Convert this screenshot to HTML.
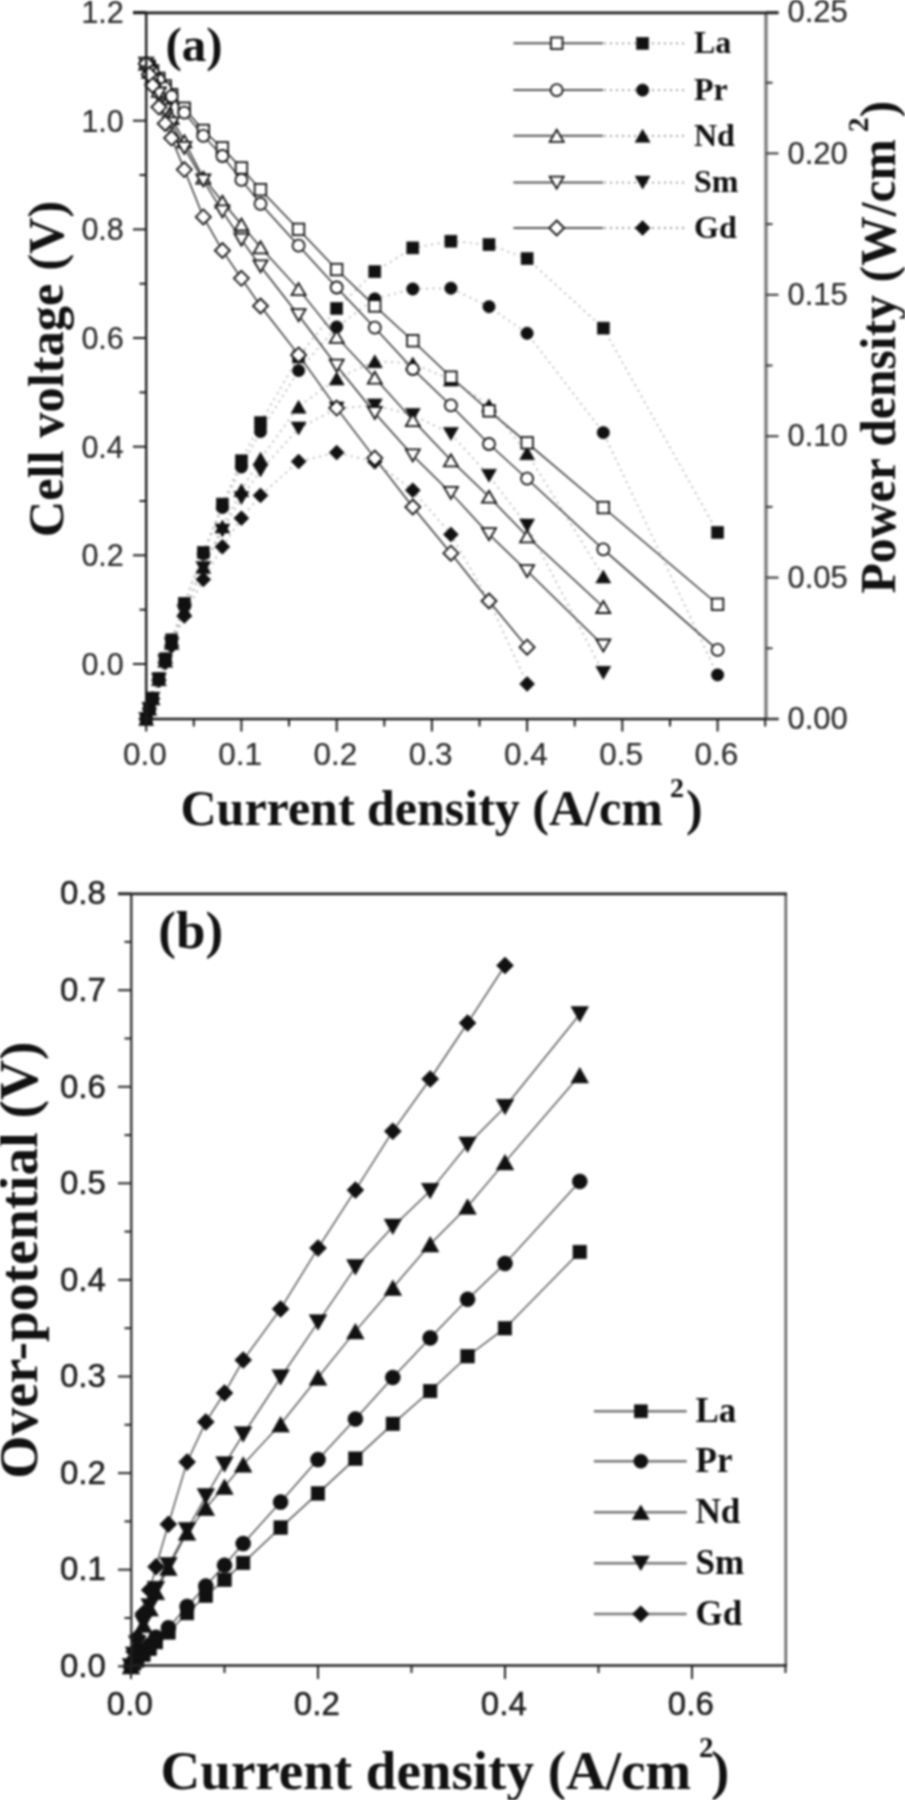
<!DOCTYPE html><html><head><meta charset="utf-8"><style>html,body{margin:0;padding:0;background:#fff;width:905px;height:1800px;overflow:hidden}svg{display:block;filter:blur(1.0px);}.tk{font-family:"Liberation Sans",sans-serif;fill:#2a2a2a;stroke:#2a2a2a;stroke-width:0.2}.tkb{font-family:"Liberation Sans",sans-serif;fill:#1e1e1e;stroke:#1e1e1e;stroke-width:0.5}.ti{font-family:"Liberation Serif",serif;font-weight:bold;fill:#111}</style></head><body>
<svg width="905" height="1800" viewBox="0 0 905 1800">
<polyline points="146.2,719.0 149.3,708.7 152.6,698.3 158.9,678.5 165.2,658.8 171.6,639.9 184.3,603.3 203.3,552.4 222.4,504.1 241.4,460.8 260.5,422.7 298.6,357.0 336.7,308.4 374.8,271.7 412.8,247.9 450.9,241.2 489.0,244.6 527.1,258.6 603.3,328.1 717.6,532.4" fill="none" stroke="#ababab" stroke-width="1.5" stroke-dasharray="2 4.5"/>
<polyline points="146.2,719.0 149.3,708.7 152.6,698.3 158.9,678.6 165.2,659.0 171.6,640.1 184.3,604.2 203.3,554.1 222.4,507.5 241.4,467.0 260.5,431.6 298.6,370.6 336.7,327.0 374.8,298.9 412.8,289.0 450.9,288.2 489.0,306.7 527.1,333.3 603.3,432.6 717.6,674.9" fill="none" stroke="#ababab" stroke-width="1.5" stroke-dasharray="2 4.5"/>
<polyline points="146.2,719.0 149.3,708.8 152.6,698.5 158.9,679.3 165.2,660.7 171.6,643.1 184.3,610.2 203.3,567.1 222.4,526.5 241.4,490.2 260.5,458.7 298.6,406.8 336.7,378.5 374.8,361.3 412.8,363.5 450.9,379.6 489.0,405.4 527.1,453.2 603.3,576.5" fill="none" stroke="#ababab" stroke-width="1.5" stroke-dasharray="2 4.5"/>
<polyline points="146.2,719.0 149.3,708.8 152.6,698.6 158.9,679.5 165.2,661.3 171.6,643.9 184.3,611.5 203.3,568.0 222.4,530.5 241.4,498.1 260.5,470.6 298.6,428.5 336.7,408.5 374.8,405.4 412.8,414.9 450.9,433.9 489.0,475.7 527.1,525.6 603.3,672.8" fill="none" stroke="#ababab" stroke-width="1.5" stroke-dasharray="2 4.5"/>
<polyline points="146.2,719.0 149.3,708.9 152.6,698.8 158.9,680.4 165.2,662.7 171.6,645.9 184.3,616.1 203.3,579.4 222.4,546.8 241.4,518.2 260.5,495.4 298.6,461.5 336.7,452.6 374.8,461.8 412.8,490.2 450.9,534.4 489.0,600.9 527.1,683.9" fill="none" stroke="#ababab" stroke-width="1.5" stroke-dasharray="2 4.5"/>
<rect x="140.2" y="713.0" width="12.0" height="12.0" fill="#111" stroke="#111" stroke-width="0.6"/>
<rect x="143.3" y="702.7" width="12.0" height="12.0" fill="#111" stroke="#111" stroke-width="0.6"/>
<rect x="146.6" y="692.3" width="12.0" height="12.0" fill="#111" stroke="#111" stroke-width="0.6"/>
<rect x="152.9" y="672.5" width="12.0" height="12.0" fill="#111" stroke="#111" stroke-width="0.6"/>
<rect x="159.2" y="652.8" width="12.0" height="12.0" fill="#111" stroke="#111" stroke-width="0.6"/>
<rect x="165.6" y="633.9" width="12.0" height="12.0" fill="#111" stroke="#111" stroke-width="0.6"/>
<rect x="178.3" y="597.3" width="12.0" height="12.0" fill="#111" stroke="#111" stroke-width="0.6"/>
<rect x="197.3" y="546.4" width="12.0" height="12.0" fill="#111" stroke="#111" stroke-width="0.6"/>
<rect x="216.4" y="498.1" width="12.0" height="12.0" fill="#111" stroke="#111" stroke-width="0.6"/>
<rect x="235.4" y="454.8" width="12.0" height="12.0" fill="#111" stroke="#111" stroke-width="0.6"/>
<rect x="254.5" y="416.7" width="12.0" height="12.0" fill="#111" stroke="#111" stroke-width="0.6"/>
<rect x="292.6" y="351.0" width="12.0" height="12.0" fill="#111" stroke="#111" stroke-width="0.6"/>
<rect x="330.7" y="302.4" width="12.0" height="12.0" fill="#111" stroke="#111" stroke-width="0.6"/>
<rect x="368.8" y="265.7" width="12.0" height="12.0" fill="#111" stroke="#111" stroke-width="0.6"/>
<rect x="406.8" y="241.9" width="12.0" height="12.0" fill="#111" stroke="#111" stroke-width="0.6"/>
<rect x="444.9" y="235.2" width="12.0" height="12.0" fill="#111" stroke="#111" stroke-width="0.6"/>
<rect x="483.0" y="238.6" width="12.0" height="12.0" fill="#111" stroke="#111" stroke-width="0.6"/>
<rect x="521.1" y="252.6" width="12.0" height="12.0" fill="#111" stroke="#111" stroke-width="0.6"/>
<rect x="597.3" y="322.1" width="12.0" height="12.0" fill="#111" stroke="#111" stroke-width="0.6"/>
<rect x="711.6" y="526.4" width="12.0" height="12.0" fill="#111" stroke="#111" stroke-width="0.6"/>
<circle cx="146.2" cy="719.0" r="6.2" fill="#111" stroke="#111" stroke-width="0.6"/>
<circle cx="149.3" cy="708.7" r="6.2" fill="#111" stroke="#111" stroke-width="0.6"/>
<circle cx="152.6" cy="698.3" r="6.2" fill="#111" stroke="#111" stroke-width="0.6"/>
<circle cx="158.9" cy="678.6" r="6.2" fill="#111" stroke="#111" stroke-width="0.6"/>
<circle cx="165.2" cy="659.0" r="6.2" fill="#111" stroke="#111" stroke-width="0.6"/>
<circle cx="171.6" cy="640.1" r="6.2" fill="#111" stroke="#111" stroke-width="0.6"/>
<circle cx="184.3" cy="604.2" r="6.2" fill="#111" stroke="#111" stroke-width="0.6"/>
<circle cx="203.3" cy="554.1" r="6.2" fill="#111" stroke="#111" stroke-width="0.6"/>
<circle cx="222.4" cy="507.5" r="6.2" fill="#111" stroke="#111" stroke-width="0.6"/>
<circle cx="241.4" cy="467.0" r="6.2" fill="#111" stroke="#111" stroke-width="0.6"/>
<circle cx="260.5" cy="431.6" r="6.2" fill="#111" stroke="#111" stroke-width="0.6"/>
<circle cx="298.6" cy="370.6" r="6.2" fill="#111" stroke="#111" stroke-width="0.6"/>
<circle cx="336.7" cy="327.0" r="6.2" fill="#111" stroke="#111" stroke-width="0.6"/>
<circle cx="374.8" cy="298.9" r="6.2" fill="#111" stroke="#111" stroke-width="0.6"/>
<circle cx="412.8" cy="289.0" r="6.2" fill="#111" stroke="#111" stroke-width="0.6"/>
<circle cx="450.9" cy="288.2" r="6.2" fill="#111" stroke="#111" stroke-width="0.6"/>
<circle cx="489.0" cy="306.7" r="6.2" fill="#111" stroke="#111" stroke-width="0.6"/>
<circle cx="527.1" cy="333.3" r="6.2" fill="#111" stroke="#111" stroke-width="0.6"/>
<circle cx="603.3" cy="432.6" r="6.2" fill="#111" stroke="#111" stroke-width="0.6"/>
<circle cx="717.6" cy="674.9" r="6.2" fill="#111" stroke="#111" stroke-width="0.6"/>
<path d="M146.2,712.5L153.7,725.5L138.7,725.5Z" fill="#111" stroke="#111" stroke-width="0.6"/>
<path d="M149.3,702.3L156.8,715.3L141.8,715.3Z" fill="#111" stroke="#111" stroke-width="0.6"/>
<path d="M152.6,692.0L160.1,705.0L145.1,705.0Z" fill="#111" stroke="#111" stroke-width="0.6"/>
<path d="M158.9,672.8L166.4,685.8L151.4,685.8Z" fill="#111" stroke="#111" stroke-width="0.6"/>
<path d="M165.2,654.2L172.7,667.2L157.7,667.2Z" fill="#111" stroke="#111" stroke-width="0.6"/>
<path d="M171.6,636.6L179.1,649.6L164.1,649.6Z" fill="#111" stroke="#111" stroke-width="0.6"/>
<path d="M184.3,603.7L191.8,616.7L176.8,616.7Z" fill="#111" stroke="#111" stroke-width="0.6"/>
<path d="M203.3,560.6L210.8,573.6L195.8,573.6Z" fill="#111" stroke="#111" stroke-width="0.6"/>
<path d="M222.4,520.0L229.9,533.0L214.9,533.0Z" fill="#111" stroke="#111" stroke-width="0.6"/>
<path d="M241.4,483.7L248.9,496.7L233.9,496.7Z" fill="#111" stroke="#111" stroke-width="0.6"/>
<path d="M260.5,452.2L268.0,465.2L253.0,465.2Z" fill="#111" stroke="#111" stroke-width="0.6"/>
<path d="M298.6,400.3L306.1,413.3L291.1,413.3Z" fill="#111" stroke="#111" stroke-width="0.6"/>
<path d="M336.7,372.0L344.2,385.0L329.2,385.0Z" fill="#111" stroke="#111" stroke-width="0.6"/>
<path d="M374.8,354.8L382.3,367.8L367.3,367.8Z" fill="#111" stroke="#111" stroke-width="0.6"/>
<path d="M412.8,357.0L420.3,370.0L405.3,370.0Z" fill="#111" stroke="#111" stroke-width="0.6"/>
<path d="M450.9,373.1L458.4,386.1L443.4,386.1Z" fill="#111" stroke="#111" stroke-width="0.6"/>
<path d="M489.0,398.9L496.5,411.9L481.5,411.9Z" fill="#111" stroke="#111" stroke-width="0.6"/>
<path d="M527.1,446.7L534.6,459.7L519.6,459.7Z" fill="#111" stroke="#111" stroke-width="0.6"/>
<path d="M603.3,570.0L610.8,583.0L595.8,583.0Z" fill="#111" stroke="#111" stroke-width="0.6"/>
<path d="M146.2,725.5L153.7,712.5L138.7,712.5Z" fill="#111" stroke="#111" stroke-width="0.6"/>
<path d="M149.3,715.3L156.8,702.3L141.8,702.3Z" fill="#111" stroke="#111" stroke-width="0.6"/>
<path d="M152.6,705.1L160.1,692.1L145.1,692.1Z" fill="#111" stroke="#111" stroke-width="0.6"/>
<path d="M158.9,686.0L166.4,673.0L151.4,673.0Z" fill="#111" stroke="#111" stroke-width="0.6"/>
<path d="M165.2,667.8L172.7,654.8L157.7,654.8Z" fill="#111" stroke="#111" stroke-width="0.6"/>
<path d="M171.6,650.4L179.1,637.4L164.1,637.4Z" fill="#111" stroke="#111" stroke-width="0.6"/>
<path d="M184.3,618.0L191.8,605.0L176.8,605.0Z" fill="#111" stroke="#111" stroke-width="0.6"/>
<path d="M203.3,574.5L210.8,561.5L195.8,561.5Z" fill="#111" stroke="#111" stroke-width="0.6"/>
<path d="M222.4,537.0L229.9,524.0L214.9,524.0Z" fill="#111" stroke="#111" stroke-width="0.6"/>
<path d="M241.4,504.6L248.9,491.6L233.9,491.6Z" fill="#111" stroke="#111" stroke-width="0.6"/>
<path d="M260.5,477.1L268.0,464.1L253.0,464.1Z" fill="#111" stroke="#111" stroke-width="0.6"/>
<path d="M298.6,435.0L306.1,422.0L291.1,422.0Z" fill="#111" stroke="#111" stroke-width="0.6"/>
<path d="M336.7,415.0L344.2,402.0L329.2,402.0Z" fill="#111" stroke="#111" stroke-width="0.6"/>
<path d="M374.8,411.9L382.3,398.9L367.3,398.9Z" fill="#111" stroke="#111" stroke-width="0.6"/>
<path d="M412.8,421.4L420.3,408.4L405.3,408.4Z" fill="#111" stroke="#111" stroke-width="0.6"/>
<path d="M450.9,440.4L458.4,427.4L443.4,427.4Z" fill="#111" stroke="#111" stroke-width="0.6"/>
<path d="M489.0,482.2L496.5,469.2L481.5,469.2Z" fill="#111" stroke="#111" stroke-width="0.6"/>
<path d="M527.1,532.1L534.6,519.1L519.6,519.1Z" fill="#111" stroke="#111" stroke-width="0.6"/>
<path d="M603.3,679.3L610.8,666.3L595.8,666.3Z" fill="#111" stroke="#111" stroke-width="0.6"/>
<path d="M146.2,711.5L153.7,719.0L146.2,726.5L138.7,719.0Z" fill="#111" stroke="#111" stroke-width="0.6"/>
<path d="M149.3,701.4L156.8,708.9L149.3,716.4L141.8,708.9Z" fill="#111" stroke="#111" stroke-width="0.6"/>
<path d="M152.6,691.3L160.1,698.8L152.6,706.3L145.1,698.8Z" fill="#111" stroke="#111" stroke-width="0.6"/>
<path d="M158.9,672.9L166.4,680.4L158.9,687.9L151.4,680.4Z" fill="#111" stroke="#111" stroke-width="0.6"/>
<path d="M165.2,655.2L172.7,662.7L165.2,670.2L157.7,662.7Z" fill="#111" stroke="#111" stroke-width="0.6"/>
<path d="M171.6,638.4L179.1,645.9L171.6,653.4L164.1,645.9Z" fill="#111" stroke="#111" stroke-width="0.6"/>
<path d="M184.3,608.6L191.8,616.1L184.3,623.6L176.8,616.1Z" fill="#111" stroke="#111" stroke-width="0.6"/>
<path d="M203.3,571.9L210.8,579.4L203.3,586.9L195.8,579.4Z" fill="#111" stroke="#111" stroke-width="0.6"/>
<path d="M222.4,539.3L229.9,546.8L222.4,554.3L214.9,546.8Z" fill="#111" stroke="#111" stroke-width="0.6"/>
<path d="M241.4,510.7L248.9,518.2L241.4,525.7L233.9,518.2Z" fill="#111" stroke="#111" stroke-width="0.6"/>
<path d="M260.5,487.9L268.0,495.4L260.5,502.9L253.0,495.4Z" fill="#111" stroke="#111" stroke-width="0.6"/>
<path d="M298.6,454.0L306.1,461.5L298.6,469.0L291.1,461.5Z" fill="#111" stroke="#111" stroke-width="0.6"/>
<path d="M336.7,445.1L344.2,452.6L336.7,460.1L329.2,452.6Z" fill="#111" stroke="#111" stroke-width="0.6"/>
<path d="M374.8,454.3L382.3,461.8L374.8,469.3L367.3,461.8Z" fill="#111" stroke="#111" stroke-width="0.6"/>
<path d="M412.8,482.7L420.3,490.2L412.8,497.7L405.3,490.2Z" fill="#111" stroke="#111" stroke-width="0.6"/>
<path d="M450.9,526.9L458.4,534.4L450.9,541.9L443.4,534.4Z" fill="#111" stroke="#111" stroke-width="0.6"/>
<path d="M489.0,593.4L496.5,600.9L489.0,608.4L481.5,600.9Z" fill="#111" stroke="#111" stroke-width="0.6"/>
<path d="M527.1,676.4L534.6,683.9L527.1,691.4L519.6,683.9Z" fill="#111" stroke="#111" stroke-width="0.6"/>
<polyline points="146.2,63.7 149.3,66.4 152.6,70.7 158.9,78.3 165.2,85.9 171.6,94.6 184.3,108.2 203.3,130.5 222.4,147.9 241.4,168.0 260.5,189.7 298.6,229.4 336.7,269.6 374.8,306.0 412.8,340.7 450.9,377.1 489.0,410.8 527.1,442.9 603.3,507.5 717.6,604.2" fill="none" stroke="#2a2a2a" stroke-width="1.4"/>
<polyline points="146.2,63.7 149.3,66.4 152.6,71.8 158.9,80.0 165.2,88.1 171.6,96.3 184.3,112.6 203.3,135.9 222.4,156.0 241.4,179.9 260.5,203.8 298.6,245.7 336.7,287.5 374.8,327.7 412.8,369.0 450.9,405.4 489.0,444.0 527.1,478.7 603.3,549.4 717.6,649.9" fill="none" stroke="#2a2a2a" stroke-width="1.4"/>
<polyline points="146.2,63.7 149.3,71.8 152.6,77.2 158.9,90.8 165.2,104.4 171.6,118.0 184.3,141.3 203.3,177.7 222.4,201.7 241.4,224.5 260.5,247.3 298.6,289.1 336.7,336.9 374.8,377.7 412.8,420.1 450.9,460.3 489.0,496.7 527.1,536.3 603.3,607.0" fill="none" stroke="#2a2a2a" stroke-width="1.4"/>
<polyline points="146.2,63.7 149.3,71.8 152.6,80.0 158.9,93.5 165.2,109.8 171.6,123.4 184.3,147.9 203.3,180.5 222.4,211.4 241.4,239.7 260.5,266.3 298.6,315.2 336.7,365.7 374.8,413.0 412.8,455.4 450.9,492.9 489.0,534.2 527.1,571.1 603.3,645.5" fill="none" stroke="#2a2a2a" stroke-width="1.4"/>
<polyline points="146.2,63.7 149.3,74.5 152.6,85.4 158.9,107.1 165.2,123.4 171.6,138.1 184.3,169.6 203.3,216.9 222.4,250.5 241.4,278.3 260.5,306.0 298.6,354.9 336.7,408.1 374.8,458.1 412.8,507.0 450.9,553.2 489.0,601.0 527.1,647.2" fill="none" stroke="#2a2a2a" stroke-width="1.4"/>
<rect x="140.4" y="57.9" width="11.5" height="11.5" fill="#fff" stroke="#111" stroke-width="1.8"/>
<rect x="143.6" y="60.6" width="11.5" height="11.5" fill="#fff" stroke="#111" stroke-width="1.8"/>
<rect x="146.8" y="65.0" width="11.5" height="11.5" fill="#fff" stroke="#111" stroke-width="1.8"/>
<rect x="153.1" y="72.6" width="11.5" height="11.5" fill="#fff" stroke="#111" stroke-width="1.8"/>
<rect x="159.5" y="80.2" width="11.5" height="11.5" fill="#fff" stroke="#111" stroke-width="1.8"/>
<rect x="165.9" y="88.9" width="11.5" height="11.5" fill="#fff" stroke="#111" stroke-width="1.8"/>
<rect x="178.5" y="102.5" width="11.5" height="11.5" fill="#fff" stroke="#111" stroke-width="1.8"/>
<rect x="197.6" y="124.7" width="11.5" height="11.5" fill="#fff" stroke="#111" stroke-width="1.8"/>
<rect x="216.6" y="142.1" width="11.5" height="11.5" fill="#fff" stroke="#111" stroke-width="1.8"/>
<rect x="235.7" y="162.2" width="11.5" height="11.5" fill="#fff" stroke="#111" stroke-width="1.8"/>
<rect x="254.7" y="183.9" width="11.5" height="11.5" fill="#fff" stroke="#111" stroke-width="1.8"/>
<rect x="292.8" y="223.6" width="11.5" height="11.5" fill="#fff" stroke="#111" stroke-width="1.8"/>
<rect x="330.9" y="263.8" width="11.5" height="11.5" fill="#fff" stroke="#111" stroke-width="1.8"/>
<rect x="369.0" y="300.2" width="11.5" height="11.5" fill="#fff" stroke="#111" stroke-width="1.8"/>
<rect x="407.1" y="335.0" width="11.5" height="11.5" fill="#fff" stroke="#111" stroke-width="1.8"/>
<rect x="445.2" y="371.4" width="11.5" height="11.5" fill="#fff" stroke="#111" stroke-width="1.8"/>
<rect x="483.3" y="405.1" width="11.5" height="11.5" fill="#fff" stroke="#111" stroke-width="1.8"/>
<rect x="521.4" y="437.1" width="11.5" height="11.5" fill="#fff" stroke="#111" stroke-width="1.8"/>
<rect x="597.6" y="501.8" width="11.5" height="11.5" fill="#fff" stroke="#111" stroke-width="1.8"/>
<rect x="711.8" y="598.5" width="11.5" height="11.5" fill="#fff" stroke="#111" stroke-width="1.8"/>
<circle cx="146.2" cy="63.7" r="6.0" fill="#fff" stroke="#111" stroke-width="1.8"/>
<circle cx="149.3" cy="66.4" r="6.0" fill="#fff" stroke="#111" stroke-width="1.8"/>
<circle cx="152.6" cy="71.8" r="6.0" fill="#fff" stroke="#111" stroke-width="1.8"/>
<circle cx="158.9" cy="80.0" r="6.0" fill="#fff" stroke="#111" stroke-width="1.8"/>
<circle cx="165.2" cy="88.1" r="6.0" fill="#fff" stroke="#111" stroke-width="1.8"/>
<circle cx="171.6" cy="96.3" r="6.0" fill="#fff" stroke="#111" stroke-width="1.8"/>
<circle cx="184.3" cy="112.6" r="6.0" fill="#fff" stroke="#111" stroke-width="1.8"/>
<circle cx="203.3" cy="135.9" r="6.0" fill="#fff" stroke="#111" stroke-width="1.8"/>
<circle cx="222.4" cy="156.0" r="6.0" fill="#fff" stroke="#111" stroke-width="1.8"/>
<circle cx="241.4" cy="179.9" r="6.0" fill="#fff" stroke="#111" stroke-width="1.8"/>
<circle cx="260.5" cy="203.8" r="6.0" fill="#fff" stroke="#111" stroke-width="1.8"/>
<circle cx="298.6" cy="245.7" r="6.0" fill="#fff" stroke="#111" stroke-width="1.8"/>
<circle cx="336.7" cy="287.5" r="6.0" fill="#fff" stroke="#111" stroke-width="1.8"/>
<circle cx="374.8" cy="327.7" r="6.0" fill="#fff" stroke="#111" stroke-width="1.8"/>
<circle cx="412.8" cy="369.0" r="6.0" fill="#fff" stroke="#111" stroke-width="1.8"/>
<circle cx="450.9" cy="405.4" r="6.0" fill="#fff" stroke="#111" stroke-width="1.8"/>
<circle cx="489.0" cy="444.0" r="6.0" fill="#fff" stroke="#111" stroke-width="1.8"/>
<circle cx="527.1" cy="478.7" r="6.0" fill="#fff" stroke="#111" stroke-width="1.8"/>
<circle cx="603.3" cy="549.4" r="6.0" fill="#fff" stroke="#111" stroke-width="1.8"/>
<circle cx="717.6" cy="649.9" r="6.0" fill="#fff" stroke="#111" stroke-width="1.8"/>
<path d="M146.2,57.7L153.2,69.7L139.2,69.7Z" fill="#fff" stroke="#111" stroke-width="1.8"/>
<path d="M149.3,65.8L156.3,77.8L142.3,77.8Z" fill="#fff" stroke="#111" stroke-width="1.8"/>
<path d="M152.6,71.2L159.6,83.2L145.6,83.2Z" fill="#fff" stroke="#111" stroke-width="1.8"/>
<path d="M158.9,84.8L165.9,96.8L151.9,96.8Z" fill="#fff" stroke="#111" stroke-width="1.8"/>
<path d="M165.2,98.4L172.2,110.4L158.2,110.4Z" fill="#fff" stroke="#111" stroke-width="1.8"/>
<path d="M171.6,112.0L178.6,124.0L164.6,124.0Z" fill="#fff" stroke="#111" stroke-width="1.8"/>
<path d="M184.3,135.3L191.3,147.3L177.3,147.3Z" fill="#fff" stroke="#111" stroke-width="1.8"/>
<path d="M203.3,171.7L210.3,183.7L196.3,183.7Z" fill="#fff" stroke="#111" stroke-width="1.8"/>
<path d="M222.4,195.7L229.4,207.7L215.4,207.7Z" fill="#fff" stroke="#111" stroke-width="1.8"/>
<path d="M241.4,218.5L248.4,230.5L234.4,230.5Z" fill="#fff" stroke="#111" stroke-width="1.8"/>
<path d="M260.5,241.3L267.5,253.3L253.5,253.3Z" fill="#fff" stroke="#111" stroke-width="1.8"/>
<path d="M298.6,283.1L305.6,295.1L291.6,295.1Z" fill="#fff" stroke="#111" stroke-width="1.8"/>
<path d="M336.7,330.9L343.7,342.9L329.7,342.9Z" fill="#fff" stroke="#111" stroke-width="1.8"/>
<path d="M374.8,371.7L381.8,383.7L367.8,383.7Z" fill="#fff" stroke="#111" stroke-width="1.8"/>
<path d="M412.8,414.1L419.8,426.1L405.8,426.1Z" fill="#fff" stroke="#111" stroke-width="1.8"/>
<path d="M450.9,454.3L457.9,466.3L443.9,466.3Z" fill="#fff" stroke="#111" stroke-width="1.8"/>
<path d="M489.0,490.7L496.0,502.7L482.0,502.7Z" fill="#fff" stroke="#111" stroke-width="1.8"/>
<path d="M527.1,530.3L534.1,542.3L520.1,542.3Z" fill="#fff" stroke="#111" stroke-width="1.8"/>
<path d="M603.3,601.0L610.3,613.0L596.3,613.0Z" fill="#fff" stroke="#111" stroke-width="1.8"/>
<path d="M146.2,69.7L153.2,57.7L139.2,57.7Z" fill="#fff" stroke="#111" stroke-width="1.8"/>
<path d="M149.3,77.8L156.3,65.8L142.3,65.8Z" fill="#fff" stroke="#111" stroke-width="1.8"/>
<path d="M152.6,86.0L159.6,74.0L145.6,74.0Z" fill="#fff" stroke="#111" stroke-width="1.8"/>
<path d="M158.9,99.5L165.9,87.5L151.9,87.5Z" fill="#fff" stroke="#111" stroke-width="1.8"/>
<path d="M165.2,115.8L172.2,103.8L158.2,103.8Z" fill="#fff" stroke="#111" stroke-width="1.8"/>
<path d="M171.6,129.4L178.6,117.4L164.6,117.4Z" fill="#fff" stroke="#111" stroke-width="1.8"/>
<path d="M184.3,153.9L191.3,141.9L177.3,141.9Z" fill="#fff" stroke="#111" stroke-width="1.8"/>
<path d="M203.3,186.5L210.3,174.5L196.3,174.5Z" fill="#fff" stroke="#111" stroke-width="1.8"/>
<path d="M222.4,217.4L229.4,205.4L215.4,205.4Z" fill="#fff" stroke="#111" stroke-width="1.8"/>
<path d="M241.4,245.7L248.4,233.7L234.4,233.7Z" fill="#fff" stroke="#111" stroke-width="1.8"/>
<path d="M260.5,272.3L267.5,260.3L253.5,260.3Z" fill="#fff" stroke="#111" stroke-width="1.8"/>
<path d="M298.6,321.2L305.6,309.2L291.6,309.2Z" fill="#fff" stroke="#111" stroke-width="1.8"/>
<path d="M336.7,371.7L343.7,359.7L329.7,359.7Z" fill="#fff" stroke="#111" stroke-width="1.8"/>
<path d="M374.8,419.0L381.8,407.0L367.8,407.0Z" fill="#fff" stroke="#111" stroke-width="1.8"/>
<path d="M412.8,461.4L419.8,449.4L405.8,449.4Z" fill="#fff" stroke="#111" stroke-width="1.8"/>
<path d="M450.9,498.9L457.9,486.9L443.9,486.9Z" fill="#fff" stroke="#111" stroke-width="1.8"/>
<path d="M489.0,540.2L496.0,528.2L482.0,528.2Z" fill="#fff" stroke="#111" stroke-width="1.8"/>
<path d="M527.1,577.1L534.1,565.1L520.1,565.1Z" fill="#fff" stroke="#111" stroke-width="1.8"/>
<path d="M603.3,651.5L610.3,639.5L596.3,639.5Z" fill="#fff" stroke="#111" stroke-width="1.8"/>
<path d="M146.2,56.2L153.7,63.7L146.2,71.2L138.7,63.7Z" fill="#fff" stroke="#111" stroke-width="1.8"/>
<path d="M149.3,67.0L156.8,74.5L149.3,82.0L141.8,74.5Z" fill="#fff" stroke="#111" stroke-width="1.8"/>
<path d="M152.6,77.9L160.1,85.4L152.6,92.9L145.1,85.4Z" fill="#fff" stroke="#111" stroke-width="1.8"/>
<path d="M158.9,99.6L166.4,107.1L158.9,114.6L151.4,107.1Z" fill="#fff" stroke="#111" stroke-width="1.8"/>
<path d="M165.2,115.9L172.7,123.4L165.2,130.9L157.7,123.4Z" fill="#fff" stroke="#111" stroke-width="1.8"/>
<path d="M171.6,130.6L179.1,138.1L171.6,145.6L164.1,138.1Z" fill="#fff" stroke="#111" stroke-width="1.8"/>
<path d="M184.3,162.1L191.8,169.6L184.3,177.1L176.8,169.6Z" fill="#fff" stroke="#111" stroke-width="1.8"/>
<path d="M203.3,209.4L210.8,216.9L203.3,224.4L195.8,216.9Z" fill="#fff" stroke="#111" stroke-width="1.8"/>
<path d="M222.4,243.0L229.9,250.5L222.4,258.0L214.9,250.5Z" fill="#fff" stroke="#111" stroke-width="1.8"/>
<path d="M241.4,270.8L248.9,278.3L241.4,285.8L233.9,278.3Z" fill="#fff" stroke="#111" stroke-width="1.8"/>
<path d="M260.5,298.5L268.0,306.0L260.5,313.5L253.0,306.0Z" fill="#fff" stroke="#111" stroke-width="1.8"/>
<path d="M298.6,347.4L306.1,354.9L298.6,362.4L291.1,354.9Z" fill="#fff" stroke="#111" stroke-width="1.8"/>
<path d="M336.7,400.6L344.2,408.1L336.7,415.6L329.2,408.1Z" fill="#fff" stroke="#111" stroke-width="1.8"/>
<path d="M374.8,450.6L382.3,458.1L374.8,465.6L367.3,458.1Z" fill="#fff" stroke="#111" stroke-width="1.8"/>
<path d="M412.8,499.5L420.3,507.0L412.8,514.5L405.3,507.0Z" fill="#fff" stroke="#111" stroke-width="1.8"/>
<path d="M450.9,545.7L458.4,553.2L450.9,560.7L443.4,553.2Z" fill="#fff" stroke="#111" stroke-width="1.8"/>
<path d="M489.0,593.5L496.5,601.0L489.0,608.5L481.5,601.0Z" fill="#fff" stroke="#111" stroke-width="1.8"/>
<path d="M527.1,639.7L534.6,647.2L527.1,654.7L519.6,647.2Z" fill="#fff" stroke="#111" stroke-width="1.8"/>
<line x1="766.0" y1="12.8" x2="766.0" y2="719.0" stroke="#7c7c7c" stroke-width="3.4"/>
<line x1="133" y1="12.8" x2="778.5" y2="12.8" stroke="#1a1a1a" stroke-width="2.8"/>
<line x1="146.2" y1="12.8" x2="146.2" y2="719.0" stroke="#1a1a1a" stroke-width="2.4"/>
<line x1="145.0" y1="719.0" x2="778.5" y2="719.0" stroke="#1a1a1a" stroke-width="2.6"/>
<line x1="139.5" y1="718.3" x2="146.2" y2="718.3" stroke="#1a1a1a" stroke-width="2"/>
<line x1="133" y1="664.0" x2="146.2" y2="664.0" stroke="#1a1a1a" stroke-width="2"/>
<text class="tk" x="123.8" y="674.8" font-size="30.5" text-anchor="end">0.0</text>
<line x1="139.5" y1="609.7" x2="146.2" y2="609.7" stroke="#1a1a1a" stroke-width="2"/>
<line x1="133" y1="555.3" x2="146.2" y2="555.3" stroke="#1a1a1a" stroke-width="2"/>
<text class="tk" x="123.8" y="566.1" font-size="30.5" text-anchor="end">0.2</text>
<line x1="139.5" y1="501.0" x2="146.2" y2="501.0" stroke="#1a1a1a" stroke-width="2"/>
<line x1="133" y1="446.7" x2="146.2" y2="446.7" stroke="#1a1a1a" stroke-width="2"/>
<text class="tk" x="123.8" y="457.5" font-size="30.5" text-anchor="end">0.4</text>
<line x1="139.5" y1="392.4" x2="146.2" y2="392.4" stroke="#1a1a1a" stroke-width="2"/>
<line x1="133" y1="338.0" x2="146.2" y2="338.0" stroke="#1a1a1a" stroke-width="2"/>
<text class="tk" x="123.8" y="348.8" font-size="30.5" text-anchor="end">0.6</text>
<line x1="139.5" y1="283.7" x2="146.2" y2="283.7" stroke="#1a1a1a" stroke-width="2"/>
<line x1="133" y1="229.4" x2="146.2" y2="229.4" stroke="#1a1a1a" stroke-width="2"/>
<text class="tk" x="123.8" y="240.2" font-size="30.5" text-anchor="end">0.8</text>
<line x1="139.5" y1="175.0" x2="146.2" y2="175.0" stroke="#1a1a1a" stroke-width="2"/>
<line x1="133" y1="120.7" x2="146.2" y2="120.7" stroke="#1a1a1a" stroke-width="2"/>
<text class="tk" x="123.8" y="131.5" font-size="30.5" text-anchor="end">1.0</text>
<line x1="139.5" y1="66.4" x2="146.2" y2="66.4" stroke="#1a1a1a" stroke-width="2"/>
<line x1="133" y1="12.0" x2="146.2" y2="12.0" stroke="#1a1a1a" stroke-width="2"/>
<text class="tk" x="123.8" y="22.8" font-size="30.5" text-anchor="end">1.2</text>
<line x1="766.0" y1="719.0" x2="778.5" y2="719.0" stroke="#333" stroke-width="2"/>
<text class="tk" x="787.5" y="729.1" font-size="31">0.00</text>
<line x1="766.0" y1="648.3" x2="772.5" y2="648.3" stroke="#333" stroke-width="2"/>
<line x1="766.0" y1="577.6" x2="778.5" y2="577.6" stroke="#333" stroke-width="2"/>
<text class="tk" x="787.5" y="587.7" font-size="31">0.05</text>
<line x1="766.0" y1="506.9" x2="772.5" y2="506.9" stroke="#333" stroke-width="2"/>
<line x1="766.0" y1="436.2" x2="778.5" y2="436.2" stroke="#333" stroke-width="2"/>
<text class="tk" x="787.5" y="446.3" font-size="31">0.10</text>
<line x1="766.0" y1="365.5" x2="772.5" y2="365.5" stroke="#333" stroke-width="2"/>
<line x1="766.0" y1="294.8" x2="778.5" y2="294.8" stroke="#333" stroke-width="2"/>
<text class="tk" x="787.5" y="304.9" font-size="31">0.15</text>
<line x1="766.0" y1="224.1" x2="772.5" y2="224.1" stroke="#333" stroke-width="2"/>
<line x1="766.0" y1="153.4" x2="778.5" y2="153.4" stroke="#333" stroke-width="2"/>
<text class="tk" x="787.5" y="163.5" font-size="31">0.20</text>
<line x1="766.0" y1="82.7" x2="772.5" y2="82.7" stroke="#333" stroke-width="2"/>
<line x1="766.0" y1="12.0" x2="778.5" y2="12.0" stroke="#333" stroke-width="2"/>
<text class="tk" x="787.5" y="22.1" font-size="31">0.25</text>
<line x1="146.2" y1="719.0" x2="146.2" y2="731.5" stroke="#1a1a1a" stroke-width="2"/>
<text class="tk" x="145.0" y="765.2" font-size="31.5" text-anchor="middle">0.0</text>
<line x1="193.8" y1="719.0" x2="193.8" y2="726.5" stroke="#1a1a1a" stroke-width="2"/>
<line x1="241.4" y1="719.0" x2="241.4" y2="731.5" stroke="#1a1a1a" stroke-width="2"/>
<text class="tk" x="240.2" y="765.2" font-size="31.5" text-anchor="middle">0.1</text>
<line x1="289.0" y1="719.0" x2="289.0" y2="726.5" stroke="#1a1a1a" stroke-width="2"/>
<line x1="336.7" y1="719.0" x2="336.7" y2="731.5" stroke="#1a1a1a" stroke-width="2"/>
<text class="tk" x="335.5" y="765.2" font-size="31.5" text-anchor="middle">0.2</text>
<line x1="384.3" y1="719.0" x2="384.3" y2="726.5" stroke="#1a1a1a" stroke-width="2"/>
<line x1="431.9" y1="719.0" x2="431.9" y2="731.5" stroke="#1a1a1a" stroke-width="2"/>
<text class="tk" x="430.7" y="765.2" font-size="31.5" text-anchor="middle">0.3</text>
<line x1="479.5" y1="719.0" x2="479.5" y2="726.5" stroke="#1a1a1a" stroke-width="2"/>
<line x1="527.1" y1="719.0" x2="527.1" y2="731.5" stroke="#1a1a1a" stroke-width="2"/>
<text class="tk" x="525.9" y="765.2" font-size="31.5" text-anchor="middle">0.4</text>
<line x1="574.7" y1="719.0" x2="574.7" y2="726.5" stroke="#1a1a1a" stroke-width="2"/>
<line x1="622.3" y1="719.0" x2="622.3" y2="731.5" stroke="#1a1a1a" stroke-width="2"/>
<text class="tk" x="621.1" y="765.2" font-size="31.5" text-anchor="middle">0.5</text>
<line x1="670.0" y1="719.0" x2="670.0" y2="726.5" stroke="#1a1a1a" stroke-width="2"/>
<line x1="717.6" y1="719.0" x2="717.6" y2="731.5" stroke="#1a1a1a" stroke-width="2"/>
<text class="tk" x="716.4" y="765.2" font-size="31.5" text-anchor="middle">0.6</text>
<line x1="765.2" y1="719.0" x2="765.2" y2="726.5" stroke="#1a1a1a" stroke-width="2"/>
<text class="ti" x="165.5" y="61.3" font-size="49">(a)</text>
<text class="ti" x="180.5" y="824.5" font-size="50">Current density (A/cm</text>
<text class="ti" x="670" y="796.5" font-size="28">2</text>
<text class="ti" x="686" y="824.5" font-size="50">)</text>
<text class="ti" transform="translate(62.5,537.3) rotate(-90)" font-size="50.5">Cell voltage (V)</text>
<text class="ti" transform="translate(894.5,593.5) rotate(-90)" font-size="49.7">Power density (W/cm</text>
<text class="ti" transform="translate(868.3,132.3) rotate(-90)" font-size="30">2</text>
<text class="ti" transform="translate(894.5,117.2) rotate(-90)" font-size="49.7">)</text>
<line x1="513.4" y1="43.3" x2="603" y2="43.3" stroke="#555" stroke-width="2"/>
<line x1="604" y1="43.3" x2="685" y2="43.3" stroke="#999" stroke-width="1.8" stroke-dasharray="2 4"/>
<rect x="551.0" y="37.5" width="11.5" height="11.5" fill="#fff" stroke="#111" stroke-width="1.8"/>
<rect x="636.6" y="37.3" width="12.0" height="12.0" fill="#111" stroke="#111" stroke-width="0.6"/>
<text class="ti" x="694" y="53.1" font-size="32">La</text>
<line x1="513.4" y1="90.1" x2="603" y2="90.1" stroke="#555" stroke-width="2"/>
<line x1="604" y1="90.1" x2="685" y2="90.1" stroke="#999" stroke-width="1.8" stroke-dasharray="2 4"/>
<circle cx="556.7" cy="90.1" r="6.0" fill="#fff" stroke="#111" stroke-width="1.8"/>
<circle cx="642.6" cy="90.1" r="6.2" fill="#111" stroke="#111" stroke-width="0.6"/>
<text class="ti" x="694" y="99.9" font-size="32">Pr</text>
<line x1="513.4" y1="135.8" x2="603" y2="135.8" stroke="#555" stroke-width="2"/>
<line x1="604" y1="135.8" x2="685" y2="135.8" stroke="#999" stroke-width="1.8" stroke-dasharray="2 4"/>
<path d="M556.7,129.8L563.7,141.8L549.7,141.8Z" fill="#fff" stroke="#111" stroke-width="1.8"/>
<path d="M642.6,129.3L650.1,142.3L635.1,142.3Z" fill="#111" stroke="#111" stroke-width="0.6"/>
<text class="ti" x="694" y="145.6" font-size="32">Nd</text>
<line x1="513.4" y1="182.6" x2="603" y2="182.6" stroke="#555" stroke-width="2"/>
<line x1="604" y1="182.6" x2="685" y2="182.6" stroke="#999" stroke-width="1.8" stroke-dasharray="2 4"/>
<path d="M556.7,188.6L563.7,176.6L549.7,176.6Z" fill="#fff" stroke="#111" stroke-width="1.8"/>
<path d="M642.6,189.1L650.1,176.1L635.1,176.1Z" fill="#111" stroke="#111" stroke-width="0.6"/>
<text class="ti" x="694" y="192.4" font-size="32">Sm</text>
<line x1="513.4" y1="228.0" x2="603" y2="228.0" stroke="#555" stroke-width="2"/>
<line x1="604" y1="228.0" x2="685" y2="228.0" stroke="#999" stroke-width="1.8" stroke-dasharray="2 4"/>
<path d="M556.7,220.5L564.2,228.0L556.7,235.5L549.2,228.0Z" fill="#fff" stroke="#111" stroke-width="1.8"/>
<path d="M642.6,220.5L650.1,228.0L642.6,235.5L635.1,228.0Z" fill="#111" stroke="#111" stroke-width="0.6"/>
<text class="ti" x="694" y="237.8" font-size="32">Gd</text>
<polyline points="131.0,1666.3 134.1,1663.4 137.3,1660.5 143.4,1654.7 149.7,1648.9 156.0,1642.2 168.4,1632.5 187.1,1613.2 205.8,1595.8 224.5,1579.9 243.2,1562.9 280.6,1527.6 318.0,1493.4 355.4,1458.6 392.8,1423.9 430.2,1391.0 467.6,1356.2 505.0,1328.2 579.8,1251.9" fill="none" stroke="#555" stroke-width="1.45"/>
<polyline points="131.0,1666.3 134.1,1662.4 137.3,1658.6 143.4,1651.8 149.7,1645.1 156.0,1637.3 168.4,1627.7 187.1,1606.4 205.8,1586.1 224.5,1565.3 243.2,1543.6 280.6,1502.1 318.0,1459.6 355.4,1419.0 392.8,1377.5 430.2,1337.9 467.6,1299.3 505.0,1263.5 579.8,1181.4" fill="none" stroke="#555" stroke-width="1.45"/>
<polyline points="131.0,1666.3 134.1,1654.7 137.3,1644.1 143.4,1624.8 149.7,1608.3 156.0,1591.9 168.4,1567.8 187.1,1532.5 205.8,1507.9 224.5,1486.6 243.2,1464.4 280.6,1424.3 318.0,1377.5 355.4,1331.1 392.8,1287.7 430.2,1244.2 467.6,1206.5 505.0,1162.1 579.8,1075.2" fill="none" stroke="#555" stroke-width="1.45"/>
<polyline points="131.0,1666.3 134.1,1654.7 137.3,1643.1 143.4,1622.8 149.7,1606.4 156.0,1589.0 168.4,1565.3 187.1,1530.1 205.8,1496.3 224.5,1464.4 243.2,1434.5 280.6,1377.5 318.0,1322.4 355.4,1267.4 392.8,1226.8 430.2,1191.1 467.6,1144.7 505.0,1107.0 579.8,1014.3" fill="none" stroke="#555" stroke-width="1.45"/>
<polyline points="131.0,1666.3 134.1,1651.8 137.3,1637.3 143.4,1613.2 149.7,1590.0 156.0,1566.8 168.4,1524.3 187.1,1462.0 205.8,1421.9 224.5,1393.0 243.2,1360.1 280.6,1308.9 318.0,1248.1 355.4,1190.1 392.8,1131.2 430.2,1079.0 467.6,1023.0 505.0,965.5" fill="none" stroke="#555" stroke-width="1.45"/>
<rect x="124.2" y="1659.5" width="13.5" height="13.5" fill="#111" stroke="#111" stroke-width="0.6"/>
<rect x="127.3" y="1656.7" width="13.5" height="13.5" fill="#111" stroke="#111" stroke-width="0.6"/>
<rect x="130.5" y="1653.8" width="13.5" height="13.5" fill="#111" stroke="#111" stroke-width="0.6"/>
<rect x="136.7" y="1648.0" width="13.5" height="13.5" fill="#111" stroke="#111" stroke-width="0.6"/>
<rect x="142.9" y="1642.2" width="13.5" height="13.5" fill="#111" stroke="#111" stroke-width="0.6"/>
<rect x="149.2" y="1635.4" width="13.5" height="13.5" fill="#111" stroke="#111" stroke-width="0.6"/>
<rect x="161.7" y="1625.7" width="13.5" height="13.5" fill="#111" stroke="#111" stroke-width="0.6"/>
<rect x="180.3" y="1606.4" width="13.5" height="13.5" fill="#111" stroke="#111" stroke-width="0.6"/>
<rect x="199.1" y="1589.0" width="13.5" height="13.5" fill="#111" stroke="#111" stroke-width="0.6"/>
<rect x="217.8" y="1573.1" width="13.5" height="13.5" fill="#111" stroke="#111" stroke-width="0.6"/>
<rect x="236.4" y="1556.2" width="13.5" height="13.5" fill="#111" stroke="#111" stroke-width="0.6"/>
<rect x="273.9" y="1520.8" width="13.5" height="13.5" fill="#111" stroke="#111" stroke-width="0.6"/>
<rect x="311.2" y="1486.7" width="13.5" height="13.5" fill="#111" stroke="#111" stroke-width="0.6"/>
<rect x="348.6" y="1451.9" width="13.5" height="13.5" fill="#111" stroke="#111" stroke-width="0.6"/>
<rect x="386.1" y="1417.1" width="13.5" height="13.5" fill="#111" stroke="#111" stroke-width="0.6"/>
<rect x="423.4" y="1384.3" width="13.5" height="13.5" fill="#111" stroke="#111" stroke-width="0.6"/>
<rect x="460.8" y="1349.5" width="13.5" height="13.5" fill="#111" stroke="#111" stroke-width="0.6"/>
<rect x="498.2" y="1321.5" width="13.5" height="13.5" fill="#111" stroke="#111" stroke-width="0.6"/>
<rect x="573.0" y="1245.2" width="13.5" height="13.5" fill="#111" stroke="#111" stroke-width="0.6"/>
<circle cx="131.0" cy="1666.3" r="7.5" fill="#111" stroke="#111" stroke-width="0.6"/>
<circle cx="134.1" cy="1662.4" r="7.5" fill="#111" stroke="#111" stroke-width="0.6"/>
<circle cx="137.3" cy="1658.6" r="7.5" fill="#111" stroke="#111" stroke-width="0.6"/>
<circle cx="143.4" cy="1651.8" r="7.5" fill="#111" stroke="#111" stroke-width="0.6"/>
<circle cx="149.7" cy="1645.1" r="7.5" fill="#111" stroke="#111" stroke-width="0.6"/>
<circle cx="156.0" cy="1637.3" r="7.5" fill="#111" stroke="#111" stroke-width="0.6"/>
<circle cx="168.4" cy="1627.7" r="7.5" fill="#111" stroke="#111" stroke-width="0.6"/>
<circle cx="187.1" cy="1606.4" r="7.5" fill="#111" stroke="#111" stroke-width="0.6"/>
<circle cx="205.8" cy="1586.1" r="7.5" fill="#111" stroke="#111" stroke-width="0.6"/>
<circle cx="224.5" cy="1565.3" r="7.5" fill="#111" stroke="#111" stroke-width="0.6"/>
<circle cx="243.2" cy="1543.6" r="7.5" fill="#111" stroke="#111" stroke-width="0.6"/>
<circle cx="280.6" cy="1502.1" r="7.5" fill="#111" stroke="#111" stroke-width="0.6"/>
<circle cx="318.0" cy="1459.6" r="7.5" fill="#111" stroke="#111" stroke-width="0.6"/>
<circle cx="355.4" cy="1419.0" r="7.5" fill="#111" stroke="#111" stroke-width="0.6"/>
<circle cx="392.8" cy="1377.5" r="7.5" fill="#111" stroke="#111" stroke-width="0.6"/>
<circle cx="430.2" cy="1337.9" r="7.5" fill="#111" stroke="#111" stroke-width="0.6"/>
<circle cx="467.6" cy="1299.3" r="7.5" fill="#111" stroke="#111" stroke-width="0.6"/>
<circle cx="505.0" cy="1263.5" r="7.5" fill="#111" stroke="#111" stroke-width="0.6"/>
<circle cx="579.8" cy="1181.4" r="7.5" fill="#111" stroke="#111" stroke-width="0.6"/>
<path d="M131.0,1658.5L139.8,1674.0L122.2,1674.0Z" fill="#111" stroke="#111" stroke-width="0.6"/>
<path d="M134.1,1647.0L142.8,1662.5L125.3,1662.5Z" fill="#111" stroke="#111" stroke-width="0.6"/>
<path d="M137.3,1636.3L146.0,1651.8L128.5,1651.8Z" fill="#111" stroke="#111" stroke-width="0.6"/>
<path d="M143.4,1617.0L152.2,1632.5L134.7,1632.5Z" fill="#111" stroke="#111" stroke-width="0.6"/>
<path d="M149.7,1600.6L158.4,1616.1L140.9,1616.1Z" fill="#111" stroke="#111" stroke-width="0.6"/>
<path d="M156.0,1584.2L164.7,1599.7L147.2,1599.7Z" fill="#111" stroke="#111" stroke-width="0.6"/>
<path d="M168.4,1560.0L177.2,1575.5L159.7,1575.5Z" fill="#111" stroke="#111" stroke-width="0.6"/>
<path d="M187.1,1524.8L195.8,1540.3L178.3,1540.3Z" fill="#111" stroke="#111" stroke-width="0.6"/>
<path d="M205.8,1500.1L214.6,1515.6L197.1,1515.6Z" fill="#111" stroke="#111" stroke-width="0.6"/>
<path d="M224.5,1478.9L233.2,1494.4L215.8,1494.4Z" fill="#111" stroke="#111" stroke-width="0.6"/>
<path d="M243.2,1456.7L251.9,1472.2L234.4,1472.2Z" fill="#111" stroke="#111" stroke-width="0.6"/>
<path d="M280.6,1416.6L289.4,1432.1L271.9,1432.1Z" fill="#111" stroke="#111" stroke-width="0.6"/>
<path d="M318.0,1369.7L326.8,1385.2L309.2,1385.2Z" fill="#111" stroke="#111" stroke-width="0.6"/>
<path d="M355.4,1323.4L364.1,1338.9L346.6,1338.9Z" fill="#111" stroke="#111" stroke-width="0.6"/>
<path d="M392.8,1279.9L401.6,1295.4L384.1,1295.4Z" fill="#111" stroke="#111" stroke-width="0.6"/>
<path d="M430.2,1236.5L438.9,1252.0L421.4,1252.0Z" fill="#111" stroke="#111" stroke-width="0.6"/>
<path d="M467.6,1198.8L476.3,1214.3L458.8,1214.3Z" fill="#111" stroke="#111" stroke-width="0.6"/>
<path d="M505.0,1154.4L513.8,1169.9L496.2,1169.9Z" fill="#111" stroke="#111" stroke-width="0.6"/>
<path d="M579.8,1067.4L588.5,1082.9L571.0,1082.9Z" fill="#111" stroke="#111" stroke-width="0.6"/>
<path d="M131.0,1674.0L139.8,1658.5L122.2,1658.5Z" fill="#111" stroke="#111" stroke-width="0.6"/>
<path d="M134.1,1662.5L142.8,1647.0L125.3,1647.0Z" fill="#111" stroke="#111" stroke-width="0.6"/>
<path d="M137.3,1650.9L146.0,1635.4L128.5,1635.4Z" fill="#111" stroke="#111" stroke-width="0.6"/>
<path d="M143.4,1630.6L152.2,1615.1L134.7,1615.1Z" fill="#111" stroke="#111" stroke-width="0.6"/>
<path d="M149.7,1614.2L158.4,1598.7L140.9,1598.7Z" fill="#111" stroke="#111" stroke-width="0.6"/>
<path d="M156.0,1596.8L164.7,1581.3L147.2,1581.3Z" fill="#111" stroke="#111" stroke-width="0.6"/>
<path d="M168.4,1573.0L177.2,1557.5L159.7,1557.5Z" fill="#111" stroke="#111" stroke-width="0.6"/>
<path d="M187.1,1537.9L195.8,1522.4L178.3,1522.4Z" fill="#111" stroke="#111" stroke-width="0.6"/>
<path d="M205.8,1504.1L214.6,1488.6L197.1,1488.6Z" fill="#111" stroke="#111" stroke-width="0.6"/>
<path d="M224.5,1472.2L233.2,1456.7L215.8,1456.7Z" fill="#111" stroke="#111" stroke-width="0.6"/>
<path d="M243.2,1442.2L251.9,1426.7L234.4,1426.7Z" fill="#111" stroke="#111" stroke-width="0.6"/>
<path d="M280.6,1385.2L289.4,1369.7L271.9,1369.7Z" fill="#111" stroke="#111" stroke-width="0.6"/>
<path d="M318.0,1330.2L326.8,1314.7L309.2,1314.7Z" fill="#111" stroke="#111" stroke-width="0.6"/>
<path d="M355.4,1275.1L364.1,1259.6L346.6,1259.6Z" fill="#111" stroke="#111" stroke-width="0.6"/>
<path d="M392.8,1234.6L401.6,1219.1L384.1,1219.1Z" fill="#111" stroke="#111" stroke-width="0.6"/>
<path d="M430.2,1198.8L438.9,1183.3L421.4,1183.3Z" fill="#111" stroke="#111" stroke-width="0.6"/>
<path d="M467.6,1152.5L476.3,1137.0L458.8,1137.0Z" fill="#111" stroke="#111" stroke-width="0.6"/>
<path d="M505.0,1114.8L513.8,1099.3L496.2,1099.3Z" fill="#111" stroke="#111" stroke-width="0.6"/>
<path d="M579.8,1022.1L588.5,1006.6L571.0,1006.6Z" fill="#111" stroke="#111" stroke-width="0.6"/>
<path d="M131.0,1657.8L139.5,1666.3L131.0,1674.8L122.5,1666.3Z" fill="#111" stroke="#111" stroke-width="0.6"/>
<path d="M134.1,1643.3L142.6,1651.8L134.1,1660.3L125.6,1651.8Z" fill="#111" stroke="#111" stroke-width="0.6"/>
<path d="M137.3,1628.8L145.8,1637.3L137.3,1645.8L128.8,1637.3Z" fill="#111" stroke="#111" stroke-width="0.6"/>
<path d="M143.4,1604.7L151.9,1613.2L143.4,1621.7L134.9,1613.2Z" fill="#111" stroke="#111" stroke-width="0.6"/>
<path d="M149.7,1581.5L158.2,1590.0L149.7,1598.5L141.2,1590.0Z" fill="#111" stroke="#111" stroke-width="0.6"/>
<path d="M156.0,1558.3L164.5,1566.8L156.0,1575.3L147.5,1566.8Z" fill="#111" stroke="#111" stroke-width="0.6"/>
<path d="M168.4,1515.8L176.9,1524.3L168.4,1532.8L159.9,1524.3Z" fill="#111" stroke="#111" stroke-width="0.6"/>
<path d="M187.1,1453.5L195.6,1462.0L187.1,1470.5L178.6,1462.0Z" fill="#111" stroke="#111" stroke-width="0.6"/>
<path d="M205.8,1413.4L214.3,1421.9L205.8,1430.4L197.3,1421.9Z" fill="#111" stroke="#111" stroke-width="0.6"/>
<path d="M224.5,1384.5L233.0,1393.0L224.5,1401.5L216.0,1393.0Z" fill="#111" stroke="#111" stroke-width="0.6"/>
<path d="M243.2,1351.6L251.7,1360.1L243.2,1368.6L234.7,1360.1Z" fill="#111" stroke="#111" stroke-width="0.6"/>
<path d="M280.6,1300.4L289.1,1308.9L280.6,1317.4L272.1,1308.9Z" fill="#111" stroke="#111" stroke-width="0.6"/>
<path d="M318.0,1239.6L326.5,1248.1L318.0,1256.6L309.5,1248.1Z" fill="#111" stroke="#111" stroke-width="0.6"/>
<path d="M355.4,1181.6L363.9,1190.1L355.4,1198.6L346.9,1190.1Z" fill="#111" stroke="#111" stroke-width="0.6"/>
<path d="M392.8,1122.7L401.3,1131.2L392.8,1139.7L384.3,1131.2Z" fill="#111" stroke="#111" stroke-width="0.6"/>
<path d="M430.2,1070.5L438.7,1079.0L430.2,1087.5L421.7,1079.0Z" fill="#111" stroke="#111" stroke-width="0.6"/>
<path d="M467.6,1014.5L476.1,1023.0L467.6,1031.5L459.1,1023.0Z" fill="#111" stroke="#111" stroke-width="0.6"/>
<path d="M505.0,957.0L513.5,965.5L505.0,974.0L496.5,965.5Z" fill="#111" stroke="#111" stroke-width="0.6"/>
<line x1="785.8" y1="893.9" x2="785.8" y2="1665.5" stroke="#666" stroke-width="2.6"/>
<line x1="118" y1="893.9" x2="787.0" y2="893.9" stroke="#222" stroke-width="2.6"/>
<line x1="131.3" y1="893.9" x2="131.3" y2="1665.5" stroke="#222" stroke-width="2.2"/>
<line x1="130.20000000000002" y1="1665.5" x2="787.0" y2="1665.5" stroke="#222" stroke-width="2.6"/>
<line x1="118" y1="1666.3" x2="131.3" y2="1666.3" stroke="#222" stroke-width="2"/>
<text class="tkb" x="105.8" y="1677.0" font-size="33" text-anchor="end">0.0</text>
<line x1="124.5" y1="1618.0" x2="131.3" y2="1618.0" stroke="#222" stroke-width="2"/>
<line x1="118" y1="1569.7" x2="131.3" y2="1569.7" stroke="#222" stroke-width="2"/>
<text class="tkb" x="105.8" y="1580.4" font-size="33" text-anchor="end">0.1</text>
<line x1="124.5" y1="1521.4" x2="131.3" y2="1521.4" stroke="#222" stroke-width="2"/>
<line x1="118" y1="1473.1" x2="131.3" y2="1473.1" stroke="#222" stroke-width="2"/>
<text class="tkb" x="105.8" y="1483.8" font-size="33" text-anchor="end">0.2</text>
<line x1="124.5" y1="1424.8" x2="131.3" y2="1424.8" stroke="#222" stroke-width="2"/>
<line x1="118" y1="1376.5" x2="131.3" y2="1376.5" stroke="#222" stroke-width="2"/>
<text class="tkb" x="105.8" y="1387.2" font-size="33" text-anchor="end">0.3</text>
<line x1="124.5" y1="1328.2" x2="131.3" y2="1328.2" stroke="#222" stroke-width="2"/>
<line x1="118" y1="1279.9" x2="131.3" y2="1279.9" stroke="#222" stroke-width="2"/>
<text class="tkb" x="105.8" y="1290.6" font-size="33" text-anchor="end">0.4</text>
<line x1="124.5" y1="1231.6" x2="131.3" y2="1231.6" stroke="#222" stroke-width="2"/>
<line x1="118" y1="1183.3" x2="131.3" y2="1183.3" stroke="#222" stroke-width="2"/>
<text class="tkb" x="105.8" y="1194.0" font-size="33" text-anchor="end">0.5</text>
<line x1="124.5" y1="1135.1" x2="131.3" y2="1135.1" stroke="#222" stroke-width="2"/>
<line x1="118" y1="1086.8" x2="131.3" y2="1086.8" stroke="#222" stroke-width="2"/>
<text class="tkb" x="105.8" y="1097.5" font-size="33" text-anchor="end">0.6</text>
<line x1="124.5" y1="1038.5" x2="131.3" y2="1038.5" stroke="#222" stroke-width="2"/>
<line x1="118" y1="990.2" x2="131.3" y2="990.2" stroke="#222" stroke-width="2"/>
<text class="tkb" x="105.8" y="1000.9" font-size="33" text-anchor="end">0.7</text>
<line x1="124.5" y1="941.9" x2="131.3" y2="941.9" stroke="#222" stroke-width="2"/>
<line x1="118" y1="893.6" x2="131.3" y2="893.6" stroke="#222" stroke-width="2"/>
<text class="tkb" x="105.8" y="904.3" font-size="33" text-anchor="end">0.8</text>
<line x1="131.0" y1="1665.5" x2="131.0" y2="1679" stroke="#222" stroke-width="2"/>
<text class="tkb" x="129.8" y="1715.2" font-size="33" text-anchor="middle">0.0</text>
<line x1="224.5" y1="1665.5" x2="224.5" y2="1673" stroke="#222" stroke-width="2"/>
<line x1="318.0" y1="1665.5" x2="318.0" y2="1679" stroke="#222" stroke-width="2"/>
<text class="tkb" x="316.8" y="1715.2" font-size="33" text-anchor="middle">0.2</text>
<line x1="411.5" y1="1665.5" x2="411.5" y2="1673" stroke="#222" stroke-width="2"/>
<line x1="505.0" y1="1665.5" x2="505.0" y2="1679" stroke="#222" stroke-width="2"/>
<text class="tkb" x="503.8" y="1715.2" font-size="33" text-anchor="middle">0.4</text>
<line x1="598.5" y1="1665.5" x2="598.5" y2="1673" stroke="#222" stroke-width="2"/>
<line x1="692.0" y1="1665.5" x2="692.0" y2="1679" stroke="#222" stroke-width="2"/>
<text class="tkb" x="690.8" y="1715.2" font-size="33" text-anchor="middle">0.6</text>
<line x1="785.5" y1="1665.5" x2="785.5" y2="1673" stroke="#222" stroke-width="2"/>
<text class="ti" x="158.3" y="948" font-size="53">(b)</text>
<text class="ti" x="160.6" y="1789" font-size="55">Current density (A/cm</text>
<text class="ti" x="699" y="1757" font-size="29">2</text>
<text class="ti" x="711" y="1789" font-size="55">)</text>
<text class="ti" transform="translate(37,1478.7) rotate(-90)" font-size="55.5">Over-potential (V)</text>
<line x1="593.9" y1="1411.3" x2="686.7" y2="1411.3" stroke="#777" stroke-width="2.4"/>
<rect x="634.3" y="1404.8" width="13.0" height="13.0" fill="#111" stroke="#111" stroke-width="0.6"/>
<text class="ti" x="695.5" y="1422.3" font-size="35">La</text>
<line x1="593.9" y1="1461.2" x2="686.7" y2="1461.2" stroke="#777" stroke-width="2.4"/>
<circle cx="640.8" cy="1461.2" r="7.0" fill="#111" stroke="#111" stroke-width="0.6"/>
<text class="ti" x="695.5" y="1472.2" font-size="35">Pr</text>
<line x1="593.9" y1="1512.3" x2="686.7" y2="1512.3" stroke="#777" stroke-width="2.4"/>
<path d="M640.8,1505.0L649.3,1519.5L632.3,1519.5Z" fill="#111" stroke="#111" stroke-width="0.6"/>
<text class="ti" x="695.5" y="1523.3" font-size="35">Nd</text>
<line x1="593.9" y1="1563.3" x2="686.7" y2="1563.3" stroke="#777" stroke-width="2.4"/>
<path d="M640.8,1570.5L649.3,1556.0L632.3,1556.0Z" fill="#111" stroke="#111" stroke-width="0.6"/>
<text class="ti" x="695.5" y="1574.3" font-size="35">Sm</text>
<line x1="593.9" y1="1614.0" x2="686.7" y2="1614.0" stroke="#777" stroke-width="2.4"/>
<path d="M640.8,1605.8L649.0,1614.0L640.8,1622.2L632.5,1614.0Z" fill="#111" stroke="#111" stroke-width="0.6"/>
<text class="ti" x="695.5" y="1625.0" font-size="35">Gd</text>
</svg></body></html>
